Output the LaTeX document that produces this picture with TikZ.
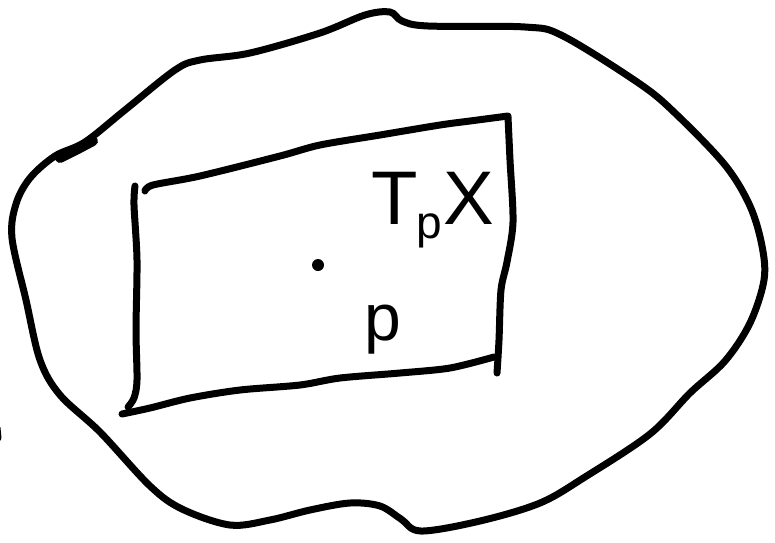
\documentclass[tikz,border=0pt]{standalone}
\usepackage{fontspec}
\setmainfont{Liberation Sans}
\tikzset{
  ink/.style={line width=7pt, line cap=round, line join=round, black},
  lbl/.style={inner sep=0pt, outer sep=0pt, font=\fontsize{76}{80}\selectfont}
}
\begin{document}
\begin{tikzpicture}[x=1pt,y=-1pt]
\useasboundingbox (0,0) rectangle (775,542);
% outer blob (the space X)
\draw[ink] plot[smooth cycle, tension=0.55] coordinates {
 (390,12) (402,21) (428,26) (525,27) (563,36) (640,84) (676,114)
 (725,165) (750,206) (762,246) (764,280) (750,323) (725,361)
 (690,393) (650,434) (585,477) (540,503) (480,521) (421,531)
 (401,519) (380,506) (350,503) (310,510) (270,520) (230,525)
 (182,509) (150,486) (100,432) (60,395) (40,360) (26,300)
 (12,238) (16,204) (30,178) (55,156) (85,142) (125,110)
 (175,70) (200,60) (250,53) (320,33) (365,15)};
\draw[ink, line width=10pt] (60,158) -- (76,150) -- (93,141);
\draw[ink] (-3,428) -- (-2,438);
% tangent plane
\draw[ink] plot[smooth, tension=0.5] coordinates {
 (135,186) (134,205) (137,260) (136,330) (137,380) (134,398) (128,407)};
\draw[ink] plot[smooth, tension=0.5] coordinates {
 (122,414) (150,408) (190,398) (240,390) (300,385) (340,378)
 (400,373) (450,368) (494,357)};
\draw[ink] plot[smooth, tension=0.5] coordinates {
 (508,117) (510,160) (513,222) (507,262) (501,290) (499,340) (497,373)};
\draw[ink] plot[smooth, tension=0.5] coordinates {
 (145,191) (153,185) (200,176) (280,156) (320,145) (380,135)
 (440,125) (470,121) (508,116)};
% point p
\fill (318,265) circle[radius=6pt] coordinate (pt);
\node[lbl, anchor=base west] (tpx) at (371,224)
  {T\kern-1pt\raisebox{-14pt}{\fontsize{46}{48}\selectfont p}\kern1ptX};
\node[lbl, anchor=base west, font=\fontsize{66}{70}\selectfont] (plabel) at (364,340) {p};
\end{tikzpicture}
\end{document}
